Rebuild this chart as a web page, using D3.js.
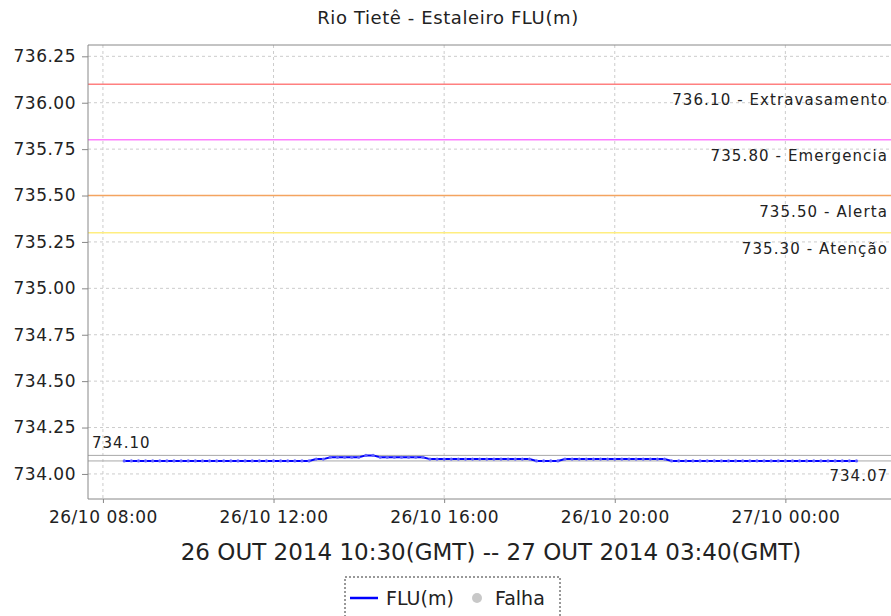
<!DOCTYPE html>
<html>
<head>
<meta charset="utf-8">
<script src="https://d3js.org/d3.v7.min.js"></script>
<style>
  body { margin: 0; background: #fff; }
  text { font-family: "DejaVu Sans", sans-serif; fill: #222; }
</style>
</head>
<body>
<div id="chart"></div>
<script>
// readings every 10 minutes, local time (GMT-2), starting 26/10 08:30
var firstReading = Date.UTC(2014, 9, 26, 8, 30);
var levels = [
  734.07, 734.07, 734.07,                              // 08h
  734.07, 734.07, 734.07, 734.07, 734.07, 734.07,      // 09h
  734.07, 734.07, 734.07, 734.07, 734.07, 734.07,      // 10h
  734.07, 734.07, 734.07, 734.07, 734.07, 734.07,      // 11h
  734.07, 734.07, 734.07, 734.07, 734.07, 734.07,      // 12h
  734.08, 734.08, 734.09, 734.09, 734.09, 734.09,      // 13h
  734.09, 734.10, 734.10, 734.09, 734.09, 734.09,      // 14h
  734.09, 734.09, 734.09, 734.09, 734.08, 734.08,      // 15h
  734.08, 734.08, 734.08, 734.08, 734.08, 734.08,      // 16h
  734.08, 734.08, 734.08, 734.08, 734.08, 734.08,      // 17h
  734.08, 734.07, 734.07, 734.07, 734.07, 734.08,      // 18h
  734.08, 734.08, 734.08, 734.08, 734.08, 734.08,      // 19h
  734.08, 734.08, 734.08, 734.08, 734.08, 734.08,      // 20h
  734.08, 734.08, 734.07, 734.07, 734.07, 734.07,      // 21h
  734.07, 734.07, 734.07, 734.07, 734.07, 734.07,      // 22h
  734.07, 734.07, 734.07, 734.07, 734.07, 734.07,      // 23h
  734.07, 734.07, 734.07, 734.07, 734.07, 734.07,      // 00h
  734.07, 734.07, 734.07, 734.07, 734.07               // 01h
];

// alarm thresholds
var limitValues = [736.10, 735.80, 735.50, 735.30];
var limitNames = ["Extravasamento", "Emergencia", "Alerta", "Atenção"];
var limitColors = ["#ff8080", "#ff80ff", "#f4a460", "#ffee80"];

var yTicks = [734.00, 734.25, 734.50, 734.75, 735.00, 735.25, 735.50, 735.75, 736.00, 736.25];
var title = "Rio Tietê - Estaleiro FLU(m)";
var subtitle = "26 OUT 2014 10:30(GMT) -- 27 OUT 2014 03:40(GMT)";
var legendNames = ["FLU(m)", "Falha"];

var width = 891, height = 616;
var plotLeft = 88, plotTop = 45, plotRight = 892, plotBottom = 499;

var times = d3.utcMinute.every(10).range(new Date(firstReading), new Date(firstReading + levels.length * 600000));
var data = levels.map(function (v, i) { return { t: times[i], v: v }; });

var svg = d3.select("#chart").append("svg")
    .attr("width", width)
    .attr("height", height);

var x = d3.scaleUtc()
    .domain([new Date(Date.UTC(2014, 9, 26, 7, 39)), new Date(Date.UTC(2014, 9, 27, 2, 30))])
    .range([plotLeft, plotRight]);
var y = d3.scaleLinear()
    .domain([733.865, 736.311])
    .range([plotBottom, plotTop]);

var xTicks = x.ticks(d3.utcHour.every(4));

// grid
svg.append("g").selectAll("line").data(yTicks).enter().append("line")
    .attr("x1", plotLeft).attr("x2", plotRight)
    .attr("y1", function (d) { return y(d); }).attr("y2", function (d) { return y(d); })
    .attr("stroke", "#cccccc").attr("stroke-dasharray", "3,3");
svg.append("g").selectAll("line").data(xTicks).enter().append("line")
    .attr("y1", plotTop).attr("y2", plotBottom)
    .attr("x1", function (d) { return x(d); }).attr("x2", function (d) { return x(d); })
    .attr("stroke", "#cccccc").attr("stroke-dasharray", "3,3");

// threshold lines + labels
limitValues.forEach(function (v, i) {
  svg.append("line")
      .attr("x1", plotLeft).attr("x2", plotRight)
      .attr("y1", y(v)).attr("y2", y(v))
      .attr("stroke", limitColors[i]).attr("stroke-width", 1.5);
  svg.append("text")
      .attr("x", 888).attr("y", y(v) + 21)
      .attr("text-anchor", "end")
      .style("font-size", "15px")
      .style("letter-spacing", "1.1px")
      .text(v.toFixed(2) + " - " + limitNames[i]);
});

// max and last value markers
var maxV = d3.max(levels), lastV = levels[levels.length - 1];
[maxV, lastV].forEach(function (v) {
  svg.append("line")
      .attr("x1", plotLeft).attr("x2", plotRight)
      .attr("y1", y(v)).attr("y2", y(v))
      .attr("stroke", "#a8a8a8").attr("stroke-width", 1);
});
svg.append("text").attr("x", 92).attr("y", y(maxV) - 7)
    .style("font-size", "15px").style("letter-spacing", "1px").text(maxV.toFixed(2));
svg.append("text").attr("x", 888).attr("y", y(lastV) + 20)
    .attr("text-anchor", "end")
    .style("font-size", "15px").style("letter-spacing", "1px").text(lastV.toFixed(2));

// series
var line = d3.line().x(function (d) { return x(d.t); }).y(function (d) { return y(d.v); });
svg.append("path").datum(data)
    .attr("fill", "none").attr("stroke", "#0000ff").attr("stroke-width", 2)
    .attr("d", line);
svg.append("g").selectAll("circle").data(data).enter().append("circle")
    .attr("cx", function (d) { return x(d.t); })
    .attr("cy", function (d) { return y(d.v); })
    .attr("r", 1.6)
    .attr("fill", "#6060ff");

// frame
svg.append("path")
    .attr("d", "M" + plotRight + "," + plotTop + "H" + plotLeft + "V" + plotBottom + "H" + plotRight)
    .attr("fill", "none").attr("stroke", "#888");

// axes
var yAxis = svg.append("g")
    .attr("transform", "translate(" + plotLeft + ",0)")
    .call(d3.axisLeft(y).tickValues(yTicks).tickFormat(d3.format(".2f")).tickSize(6).tickPadding(6));
var xAxis = svg.append("g")
    .attr("transform", "translate(0," + plotBottom + ")")
    .call(d3.axisBottom(x).tickValues(xTicks).tickFormat(d3.utcFormat("%d/%m %H:%M")).tickSize(4).tickPadding(8));
[yAxis, xAxis].forEach(function (a) {
  a.select(".domain").remove();
  a.selectAll(".tick line").attr("stroke", "#888");
  a.selectAll(".tick text").style("font-family", "DejaVu Sans").style("font-size", "17px")
      .style("letter-spacing", "0.5px").attr("fill", "#222");
});

// titles
svg.append("text").attr("x", 448).attr("y", 24).attr("text-anchor", "middle")
    .style("font-size", "18px").style("letter-spacing", "0.6px").text(title);
svg.append("text").attr("x", 491).attr("y", 560).attr("text-anchor", "middle")
    .style("font-size", "23px").text(subtitle);

// legend
var lg = svg.append("g").attr("transform", "translate(345,577)");
lg.append("rect").attr("x", 0).attr("y", 0).attr("width", 215).attr("height", 45)
    .attr("fill", "none").attr("stroke", "#333").attr("stroke-dasharray", "2,2");
lg.append("line").attr("x1", 5).attr("x2", 33).attr("y1", 21).attr("y2", 21)
    .attr("stroke", "#0000ff").attr("stroke-width", 2.5);
lg.append("text").attr("x", 41).attr("y", 28).style("font-size", "19px").text(legendNames[0]);
lg.append("circle").attr("cx", 132).attr("cy", 21).attr("r", 5).attr("fill", "#c8c8c8");
lg.append("text").attr("x", 150).attr("y", 28).style("font-size", "19px").text(legendNames[1]);
</script>
</body>
</html>
